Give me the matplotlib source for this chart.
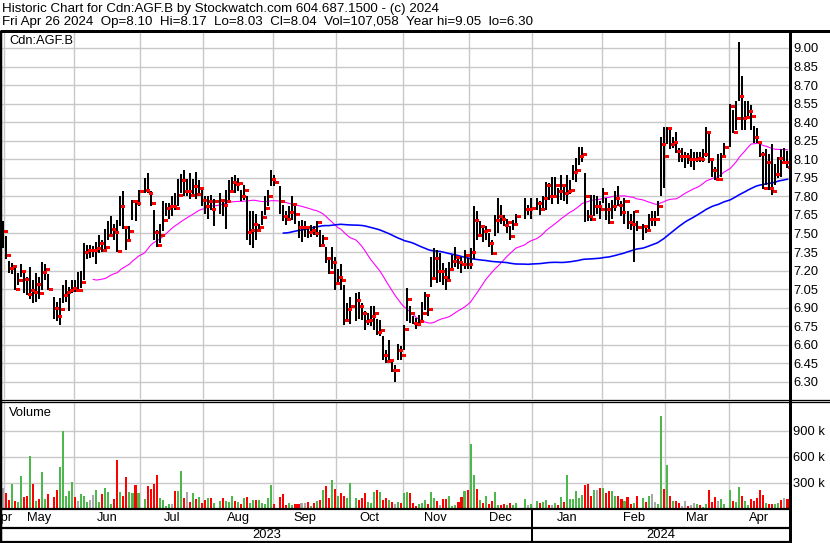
import numpy as np
import pandas as pd
import matplotlib
matplotlib.use("Agg")
import matplotlib.pyplot as plt
from matplotlib.lines import Line2D

plt.rcParams['font.family'] = ['Liberation Sans', 'DejaVu Sans']

# ---------------- data ----------------
TITLE = "Historic Chart for Cdn:AGF.B by Stockwatch.com 604.687.1500 - (c) 2024"
SUBTITLE = "Fri Apr 26 2024  Op=8.10  Hi=8.17  Lo=8.03  Cl=8.04  Vol=107,058  Year hi=9.05  lo=6.30"
TICKER = "Cdn:AGF.B"
START, END = "2023-04-28", "2024-04-26"
holidays = ["2023-05-22", "2023-07-03", "2023-08-07", "2023-09-04", "2023-10-09",
            "2023-12-25", "2023-12-26", "2024-01-01", "2024-02-19", "2024-03-29"]

close = [
    7.52,
    7.33, 7.22, 7.24, 7.05, 7.12, 7.20, 7.13, 7.01, 7.04, 7.03, 7.09, 7.02, 7.19, 7.21, 7.05, 6.90, 6.83, 6.89, 7.00, 7.03, 7.04, 7.06,
    7.04, 7.04, 7.11, 7.35, 7.37, 7.37, 7.37, 7.38, 7.42, 7.37, 7.39, 7.49, 7.54, 7.51, 7.36, 7.72, 7.55, 7.45, 7.52, 7.76, 7.75, 7.84,
    7.85, 7.83, 7.75, 7.51, 7.41, 7.49, 7.61, 7.71, 7.72, 7.72, 7.71, 7.81, 7.93, 7.84, 7.84, 7.81, 7.88, 7.82, 7.87, 7.77,
    7.72, 7.76, 7.70, 7.76, 7.77, 7.73, 7.76, 7.84, 7.92, 7.90, 7.91, 7.80, 7.85, 7.51, 7.53, 7.58, 7.53, 7.55, 7.63, 7.71, 7.80, 7.94,
    7.92, 7.76, 7.64, 7.62, 7.67, 7.74, 7.66, 7.55, 7.55, 7.55, 7.51, 7.53, 7.50, 7.59, 7.41, 7.46, 7.30, 7.19, 7.27, 7.10,
    7.15, 7.12, 6.80, 6.89, 6.91, 6.96, 6.91, 6.86, 6.79, 6.80, 6.83, 6.86, 6.70, 6.72, 6.52, 6.47, 6.48, 6.40, 6.40, 6.56, 6.52,
    6.73, 6.97, 6.86, 6.78, 6.77, 6.79, 6.86, 7.00, 6.89, 7.14, 7.30, 7.20, 7.20, 7.15, 7.12, 7.21, 7.28, 7.31, 7.27, 7.25, 7.33, 7.25,
    7.35, 7.61, 7.49, 7.56, 7.52, 7.53, 7.42, 7.34, 7.61, 7.64, 7.62, 7.57, 7.59, 7.48, 7.58, 7.64, 7.70, 7.70, 7.71,
    7.75, 7.70, 7.79, 7.89, 7.80, 7.80, 7.89, 7.84, 7.89, 7.83, 7.84, 7.85, 8.00, 8.01, 8.13, 8.14, 7.80, 7.64, 7.62, 7.72, 7.72, 7.70,
    7.83, 7.70, 7.59, 7.72, 7.79, 7.73, 7.67, 7.76, 7.59, 7.58, 7.68, 7.55, 7.56, 7.53, 7.62, 7.62, 7.62, 7.72, 8.22, 8.13,
    8.35, 8.22, 8.24, 8.17, 8.13, 8.13, 8.13, 8.10, 8.10, 8.10, 8.11, 8.10, 8.14, 8.32, 8.10, 8.01, 7.94, 7.94, 8.13, 8.20,
    8.53, 8.32, 8.43, 8.61, 8.43, 8.44, 8.49, 8.45, 8.28, 8.24, 8.14, 7.87, 8.08, 7.87, 7.84, 7.98, 8.11, 8.08, 8.08, 8.04,
]

high = [
    7.60,
    7.48, 7.28, 7.26, 7.22, 7.18, 7.25, 7.19, 7.15, 7.23, 7.12, 7.18, 7.15, 7.27, 7.25, 7.17, 6.99, 6.95, 6.98, 7.08, 7.12, 7.07, 7.12,
    7.12, 7.19, 7.20, 7.42, 7.41, 7.41, 7.40, 7.43, 7.49, 7.45, 7.54, 7.60, 7.64, 7.58, 7.61, 7.80, 7.84, 7.56, 7.56, 7.77, 7.77, 7.85,
    7.95, 7.99, 7.84, 7.69, 7.53, 7.58, 7.76, 7.75, 7.75, 7.80, 7.83, 7.94, 7.98, 8.01, 7.94, 7.99, 7.94, 8.00, 7.93, 7.85,
    7.80, 7.80, 7.81, 7.78, 7.83, 7.78, 7.85, 7.93, 7.96, 7.97, 7.95, 7.85, 7.89, 7.80, 7.68, 7.68, 7.66, 7.58, 7.68, 7.80, 7.85, 8.01,
    7.97, 7.88, 7.73, 7.68, 7.72, 7.80, 7.74, 7.60, 7.61, 7.60, 7.56, 7.57, 7.56, 7.60, 7.53, 7.49, 7.39, 7.31, 7.39, 7.31,
    7.21, 7.25, 7.08, 6.94, 6.99, 7.02, 7.03, 6.94, 6.87, 6.86, 6.91, 6.91, 6.81, 6.80, 6.67, 6.56, 6.64, 6.48, 6.44, 6.61, 6.59,
    6.76, 7.06, 6.91, 6.83, 6.82, 6.84, 6.95, 7.03, 6.99, 7.31, 7.38, 7.37, 7.34, 7.26, 7.22, 7.27, 7.33, 7.39, 7.31, 7.31, 7.37, 7.30,
    7.38, 7.72, 7.68, 7.60, 7.56, 7.56, 7.50, 7.45, 7.65, 7.79, 7.73, 7.65, 7.62, 7.56, 7.61, 7.66, 7.79, 7.73, 7.79,
    7.79, 7.76, 7.80, 7.92, 7.91, 7.96, 7.96, 7.87, 7.97, 7.88, 7.97, 7.93, 8.05, 8.11, 8.20, 8.20, 7.99, 7.69, 7.81, 7.81, 7.80, 7.76,
    7.87, 7.79, 7.75, 7.77, 7.84, 7.88, 7.76, 7.79, 7.68, 7.66, 7.68, 7.60, 7.58, 7.57, 7.66, 7.68, 7.68, 7.76, 8.28, 8.36,
    8.36, 8.36, 8.28, 8.32, 8.19, 8.19, 8.16, 8.15, 8.18, 8.16, 8.16, 8.16, 8.18, 8.36, 8.32, 8.10, 8.04, 8.14, 8.15, 8.23,
    8.55, 8.50, 8.57, 9.05, 8.77, 8.57, 8.57, 8.54, 8.37, 8.35, 8.22, 8.16, 8.18, 8.14, 8.22, 8.06, 8.12, 8.18, 8.19, 8.17,
]

low = [
    7.38,
    7.29, 7.18, 7.17, 7.04, 7.08, 7.15, 7.02, 7.00, 6.97, 6.94, 6.95, 6.97, 7.04, 7.12, 7.04, 6.81, 6.79, 6.76, 6.94, 6.95, 6.87, 7.02,
    7.03, 7.03, 7.06, 7.12, 7.29, 7.30, 7.31, 7.25, 7.34, 7.35, 7.37, 7.45, 7.47, 7.45, 7.35, 7.56, 7.54, 7.37, 7.45, 7.61, 7.60, 7.72,
    7.83, 7.83, 7.72, 7.45, 7.39, 7.42, 7.52, 7.64, 7.62, 7.64, 7.69, 7.72, 7.83, 7.80, 7.80, 7.78, 7.81, 7.78, 7.81, 7.72,
    7.66, 7.62, 7.69, 7.56, 7.66, 7.64, 7.54, 7.77, 7.83, 7.83, 7.84, 7.76, 7.77, 7.45, 7.41, 7.38, 7.45, 7.52, 7.57, 7.65, 7.72, 7.88,
    7.88, 7.66, 7.60, 7.57, 7.62, 7.61, 7.58, 7.46, 7.43, 7.47, 7.46, 7.47, 7.49, 7.47, 7.39, 7.39, 7.26, 7.17, 7.21, 7.04,
    7.10, 7.04, 6.76, 6.80, 6.77, 6.79, 6.81, 6.80, 6.72, 6.76, 6.75, 6.72, 6.68, 6.67, 6.48, 6.45, 6.45, 6.38, 6.30, 6.48, 6.48,
    6.56, 6.79, 6.78, 6.77, 6.73, 6.75, 6.79, 6.88, 6.83, 7.07, 7.14, 7.10, 7.11, 7.08, 7.04, 7.12, 7.21, 7.23, 7.21, 7.18, 7.21, 7.21,
    7.21, 7.29, 7.45, 7.48, 7.43, 7.45, 7.39, 7.33, 7.48, 7.50, 7.58, 7.56, 7.50, 7.45, 7.53, 7.58, 7.62, 7.65, 7.62,
    7.69, 7.65, 7.69, 7.69, 7.77, 7.74, 7.80, 7.74, 7.77, 7.76, 7.74, 7.82, 7.93, 7.92, 8.05, 8.08, 7.59, 7.60, 7.60, 7.64, 7.66, 7.62,
    7.75, 7.61, 7.58, 7.62, 7.68, 7.72, 7.64, 7.58, 7.54, 7.53, 7.27, 7.52, 7.45, 7.50, 7.53, 7.56, 7.56, 7.64, 7.80, 7.87,
    8.22, 8.18, 8.19, 8.15, 8.08, 8.08, 8.03, 8.06, 8.04, 8.01, 8.08, 8.08, 8.08, 8.12, 8.07, 7.96, 7.93, 7.93, 7.96, 8.12,
    8.20, 8.31, 8.34, 8.57, 8.34, 8.34, 8.45, 8.34, 8.23, 8.23, 8.12, 7.86, 7.89, 7.85, 7.81, 7.89, 7.95, 7.96, 8.07, 8.03,
]

volume_k = [
    235, 177, 100, 281, 89, 73, 377, 139, 150, 608, 285, 89, 112, 424, 112, 169,
    139, 216, 481, 897, 150, 204, 308, 139, 89, 169, 150, 73, 96, 158, 216, 81, 166, 235, 189, 54, 112, 562, 193, 150, 366, 193, 177, 273, 177,
    112, 266, 227, 285, 389, 127, 96, 31, 54, 54, 204, 204, 435, 123, 189, 77, 177, 108, 135, 69, 100, 123, 123, 65,
    89, 123, 89, 73, 146, 89, 73, 58, 123, 135, 62, 96, 96, 96, 65, 58, 123, 273, 58,
    135, 169, 46, 65, 42, 54, 58, 62,
    65, 77, 31, 65, 89, 100, 216, 262, 123, 331, 227,
    146, 181, 146, 123, 296, 123, 100, 123, 181, 77, 65, 193, 216, 193, 100, 123, 100, 77, 54, 77, 65,
    181, 193, 181, 65, 31, 54, 65, 100, 54, 193, 123, 89, 42, 112, 112, 146, 31, 42, 77, 135, 204, 216,
    747, 389, 227, 100, 65, 146, 54, 89, 193, 42, 42, 54, 42, 65, 42, 65, 112, 42, 54,
    89, 65, 77, 100, 42, 42, 65, 42, 135, 77, 389, 112, 112, 204, 123, 158, 273, 285, 146, 216, 216, 239,
    239, 181, 204, 204, 146, 146, 112, 89, 135, 54, 65, 146, 123, 77, 146, 169, 77, 54, 1070, 227,
    504, 146, 89, 89, 65, 31, 89, 31, 42, 65, 54, 42, 19, 54, 216, 77, 135, 89, 112, 54,
    216, 89, 77, 250, 146, 89, 42, 112, 89, 123, 216, 162, 65, 54, 54, 54, 65, 100, 123, 107,
]

price_ticks = [6.30, 6.45, 6.60, 6.75, 6.90, 7.05, 7.20, 7.35, 7.50, 7.65, 7.80, 7.95,
               8.10, 8.25, 8.40, 8.55, 8.70, 8.85, 9.00]
vol_ticks_k = [300, 600, 900]
MA_SHORT, MA_LONG = 30, 90

# ---------------- layout ----------------
W, H = 830, 543
fig = plt.figure(figsize=(W / 100, H / 100), dpi=100)
fig.patch.set_facecolor("white")


def fx(x):
    return x / W


def fy(y):
    return 1 - y / H


def px(v):
    return v * 0.72


GRID = "#c8c8c8"
FS = 9.3
FS_HEAD = 9.65
L, R = 2, 789

days = pd.bdate_range(START, END)
hol = pd.to_datetime(holidays)
slots = np.arange(len(days))
mask = ~days.isin(hol)
xs = slots[mask]

closes = np.array(close)
highs = np.array(high)
lows = np.array(low)
vols = np.array(volume_k, dtype=float)

ma_s = pd.Series(closes).rolling(MA_SHORT).mean().values
ma_l = pd.Series(closes).rolling(MA_LONG).mean().values

# month ranges (slots include holidays)
per = days.to_period("M")
months = []
for p in per.unique():
    idx = slots[per == p]
    months.append((p, idx[0], idx[-1]))
bounds = [m[1] - 0.5 for m in months[1:]]

XMIN, XMAX = -0.23, 260.5

ax_p = fig.add_axes([fx(L), fy(399), fx(R) - fx(L), fy(31.5) - fy(399)])
ax_v = fig.add_axes([fx(L), fy(509), fx(R) - fx(L), fy(401.5) - fy(509)])
ax_m = fig.add_axes([fx(L), fy(527), fx(R) - fx(L), fy(509) - fy(527)])

for ax in (ax_p, ax_v, ax_m):
    ax.set_xlim(XMIN, XMAX)
    for s in ax.spines.values():
        s.set_visible(False)
    ax.set_xticks([])
    ax.patch.set_alpha(0)

for ax in (ax_p, ax_v):
    for b in bounds:
        ax.axvline(b, color=GRID, lw=px(1.4), zorder=0)

# price panel
ax_p.set_ylim(6.162, 9.133)
ax_p.set_yticks(price_ticks)
ax_p.set_yticklabels([f"{t:.2f}" for t in price_ticks])
ax_p.yaxis.tick_right()
ax_p.tick_params(axis="y", length=0, pad=3, labelsize=FS)
for t in price_ticks:
    ax_p.axhline(t, color=GRID, lw=px(1.4), zorder=0)

ax_p.plot(xs, ma_s, color="#ff00ff", lw=px(1.1), zorder=2)
ax_p.plot(xs, ma_l, color="#0000ff", lw=px(1.6), zorder=2)
ax_p.vlines(xs, lows, highs, color="black", lw=px(2.0), zorder=3, antialiased=False)
ax_p.hlines(closes, xs + 0.33, xs + 1.33, color="#ff0000", lw=px(2.6), zorder=4,
            antialiased=False)

# volume panel
prev = np.concatenate([[closes[0]], closes[:-1]])
cols = np.where(closes > prev, "#4cb84c", np.where(closes < prev, "#ff0000", "#a8a8a8"))
ax_v.set_ylim(-3.5, 1236)
ax_v.set_yticks(vol_ticks_k)
ax_v.set_yticklabels([f"{t} k" for t in vol_ticks_k])
ax_v.yaxis.tick_right()
ax_v.tick_params(axis="y", length=0, pad=3, labelsize=FS)
for t in vol_ticks_k:
    ax_v.axhline(t, color=GRID, lw=px(1.4), zorder=0)
ax_v.bar(xs, vols, width=0.68, bottom=0, color=cols, zorder=2, antialiased=False)

# month labels
ax_m.set_ylim(0, 1)
ax_m.set_yticks([])
for p, a, b in months:
    ax_m.text((a + b) / 2, 0.5, p.strftime("%b"), ha="center", va="center",
              fontsize=FS, clip_on=True)

# year labels
year_b = [m[1] - 0.5 for m in months if m[0].month == 1][0]
x_year_px = L + (year_b - XMIN) / (XMAX - XMIN) * (R - L)
fig.text(fx((L + x_year_px) / 2), fy(535), "2023", ha="center", va="center", fontsize=FS)
fig.text(fx((x_year_px + R) / 2), fy(535), "2024", ha="center", va="center", fontsize=FS)

# header and panel captions
fig.text(fx(2), fy(9), TITLE, ha="left", va="center", fontsize=FS_HEAD)
fig.text(fx(2), fy(22.5), SUBTITLE, ha="left", va="center", fontsize=FS_HEAD)
fig.text(fx(9), fy(41.5), TICKER, ha="left", va="center", fontsize=FS)
fig.text(fx(9), fy(413), "Volume", ha="left", va="center", fontsize=FS)


def frame(x0, y0, x1, y1, w):
    fig.add_artist(Line2D([fx(x0), fx(x1)], [fy(y0), fy(y1)], transform=fig.transFigure,
                          color="black", lw=px(w), solid_capstyle="butt"))


frame(0, 31, W, 31, 3)
frame(1, 31, 1, H, 2.5)
frame(789.5, 31, 789.5, H, 3)
frame(0, 399.5, W, 399.5, 1.3)
frame(0, 402.3, W, 402.3, 1.3)
frame(0, 509.3, 789.5, 509.3, 2.2)
frame(0, 527.5, 789.5, 527.5, 2.2)
frame(0, 542, 789.5, 542, 2.2)
frame(x_year_px, 509, x_year_px, H, 2)

fig.savefig("out.png", dpi=100, facecolor="white")
